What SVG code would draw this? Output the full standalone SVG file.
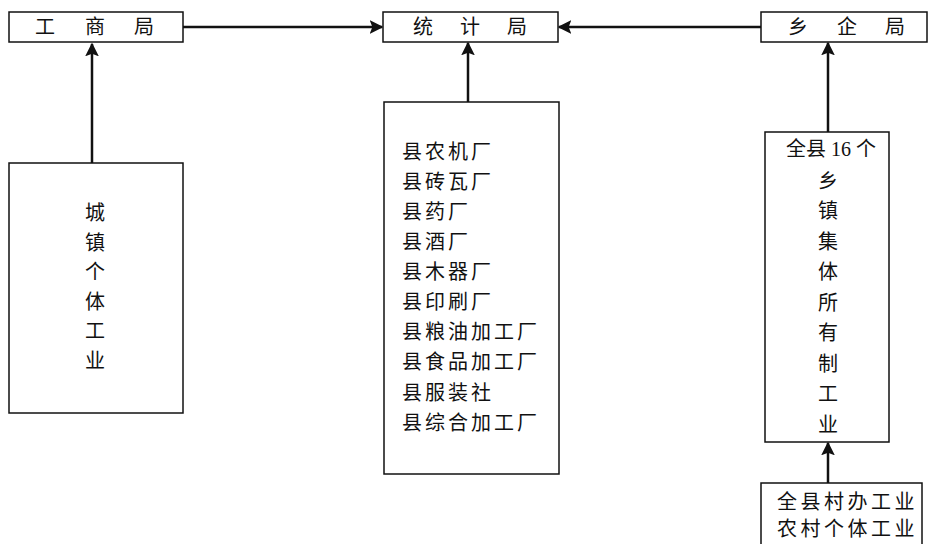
<svg xmlns="http://www.w3.org/2000/svg" width="929" height="544" viewBox="0 0 929 544">
<defs>
<style>
.box{fill:#fff;stroke:#111;stroke-width:1.5}
.t{font-family:"Liberation Serif","Noto Sans CJK SC",serif;font-size:20px;fill:#111;dominant-baseline:central}
.c{text-anchor:middle}
.con{stroke:#111;stroke-width:2.5;fill:none}
</style>
<marker id="ah" viewBox="0 0 10 10" refX="9" refY="5" markerWidth="5.5" markerHeight="5.5" orient="auto" markerUnits="strokeWidth">
<path d="M0,0 L10,5 L0,10 L2,5 Z" fill="#111"/>
</marker>
</defs>
<rect width="929" height="544" fill="#fff"/>
<g id="connectors">
<line class="con" x1="183" y1="27" x2="382" y2="27" marker-end="url(#ah)"/>
<line class="con" x1="761" y1="27" x2="559" y2="27" marker-end="url(#ah)"/>
<line class="con" x1="92" y1="163" x2="92" y2="44" marker-end="url(#ah)"/>
<line class="con" x1="468" y1="102" x2="468" y2="43" marker-end="url(#ah)"/>
<line class="con" x1="828" y1="132" x2="828" y2="43" marker-end="url(#ah)"/>
<line class="con" x1="828" y1="483" x2="828" y2="443" marker-end="url(#ah)"/>
</g>
<g id="gongshangju">
<rect class="box" x="9" y="12" width="174" height="30"/>
<text class="t c" x="45" y="27">工</text>
<text class="t c" x="95" y="27">商</text>
<text class="t c" x="144" y="27">局</text>
</g>
<g id="tongjiju">
<rect class="box" x="383" y="12" width="175" height="30"/>
<text class="t c" x="423" y="27">统</text>
<text class="t c" x="470" y="27">计</text>
<text class="t c" x="517" y="27">局</text>
</g>
<g id="xiangqiju">
<rect class="box" x="761" y="12" width="166" height="30"/>
<text class="t c" x="798" y="27">乡</text>
<text class="t c" x="847" y="27">企</text>
<text class="t c" x="895" y="27">局</text>
</g>
<g id="chengzhen">
<rect class="box" x="9" y="163" width="174" height="250"/>
<text class="t c" x="95" y="213">城</text>
<text class="t c" x="95" y="243">镇</text>
<text class="t c" x="95" y="272">个</text>
<text class="t c" x="95" y="302">体</text>
<text class="t c" x="95" y="331">工</text>
<text class="t c" x="95" y="361">业</text>
</g>
<g id="xianchang">
<rect class="box" x="384" y="102" width="175" height="372"/>
<g class="t" letter-spacing="3">
<text x="402" y="152">县农机厂</text>
<text x="402" y="182">县砖瓦厂</text>
<text x="402" y="212">县药厂</text>
<text x="402" y="242">县酒厂</text>
<text x="402" y="272">县木器厂</text>
<text x="402" y="302">县印刷厂</text>
<text x="402" y="332">县粮油加工厂</text>
<text x="402" y="362">县食品加工厂</text>
<text x="402" y="393">县服装社</text>
<text x="402" y="423">县综合加工厂</text>
</g>
</g>
<g id="xiangzhen">
<rect class="box" x="765" y="132" width="124" height="310"/>
<text class="t c" x="831" y="149">全县 16 个</text>
<text class="t c" x="828" y="181">乡</text>
<text class="t c" x="828" y="211">镇</text>
<text class="t c" x="828" y="242">集</text>
<text class="t c" x="828" y="272">体</text>
<text class="t c" x="828" y="303">所</text>
<text class="t c" x="828" y="333">有</text>
<text class="t c" x="828" y="364">制</text>
<text class="t c" x="828" y="394">工</text>
<text class="t c" x="828" y="425">业</text>
</g>
<g id="cunban">
<rect class="box" x="761" y="483" width="161" height="80"/>
<text class="t" x="777" y="502" letter-spacing="3.5">全县村办工业</text>
<text class="t" x="777" y="529" letter-spacing="3.5">农村个体工业</text>
</g>
</svg>
